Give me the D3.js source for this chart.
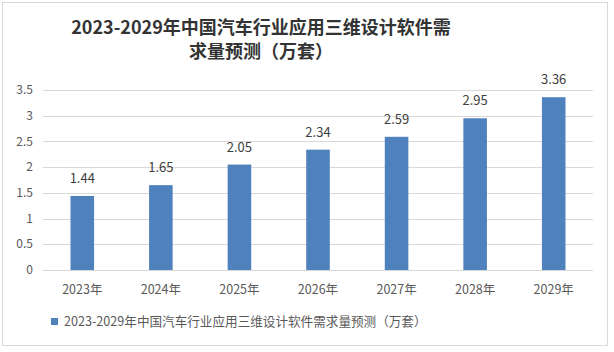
<!DOCTYPE html>
<html>
<head>
<meta charset="utf-8">
<script src="https://cdn.jsdelivr.net/npm/d3@7"></script>
<style>
  body { margin: 0; background: #fff; }
  text { font-family: "Noto Sans CJK SC", "Microsoft YaHei", sans-serif; }
</style>
</head>
<body>
<div id="chart"></div>
<script>
const years = ["2023年", "2024年", "2025年", "2026年", "2027年", "2028年", "2029年"];
const demand = [1.44, 1.65, 2.05, 2.34, 2.59, 2.95, 3.36];
const yTicks = [0, 0.5, 1, 1.5, 2, 2.5, 3, 3.5];
const seriesName = "2023-2029年中国汽车行业应用三维设计软件需求量预测（万套）";
const titleLines = ["2023-2029年中国汽车行业应用三维设计软件需", "求量预测（万套）"];

const width = 614, height = 352;
const margin = { top: 90, right: 21, bottom: 82, left: 43 };

const svg = d3.select("#chart")
  .append("svg")
  .attr("width", width)
  .attr("height", height);

// outer frame
svg.append("rect")
  .attr("x", 2.5).attr("y", 2.5)
  .attr("width", 605).attr("height", 343)
  .attr("fill", "#fff")
  .attr("stroke", "#d9d9d9");

const x = d3.scaleBand()
  .domain(years)
  .range([margin.left, width - margin.right])
  .paddingInner(0.7)
  .paddingOuter(0.35);

const y = d3.scaleLinear()
  .domain([0, 3.5])
  .range([height - margin.bottom, margin.top]);

// gridlines
svg.append("g")
  .selectAll("line")
  .data(yTicks)
  .join("line")
  .attr("x1", margin.left)
  .attr("x2", width - margin.right)
  .attr("y1", d => Math.round(y(d)) + 0.5)
  .attr("y2", d => Math.round(y(d)) + 0.5)
  .attr("stroke", "#d9d9d9");

// y labels
svg.append("g")
  .selectAll("text")
  .data(yTicks)
  .join("text")
  .attr("x", 33)
  .attr("y", d => y(d))
  .attr("dy", "0.35em")
  .attr("text-anchor", "end")
  .attr("font-size", 12)
  .attr("fill", "#595959")
  .text(d => d);

// bars
svg.append("g")
  .selectAll("rect")
  .data(demand)
  .join("rect")
  .attr("x", (d, i) => x(years[i]))
  .attr("y", d => y(d))
  .attr("width", x.bandwidth())
  .attr("height", d => y(0) - y(d))
  .attr("fill", "#4f81bd");

// value labels
svg.append("g")
  .selectAll("text")
  .data(demand)
  .join("text")
  .attr("x", (d, i) => x(years[i]) + x.bandwidth() / 2)
  .attr("y", d => y(d) - 13)
  .attr("text-anchor", "middle")
  .attr("font-size", 13)
  .attr("fill", "#404040")
  .text(d => d.toFixed(2));

// x labels
svg.append("g")
  .selectAll("text")
  .data(years)
  .join("text")
  .attr("x", d => x(d) + x.bandwidth() / 2)
  .attr("y", 294)
  .attr("text-anchor", "middle")
  .attr("font-size", 12.5)
  .attr("fill", "#595959")
  .text(d => d);

// title
svg.append("g")
  .selectAll("text")
  .data(titleLines)
  .join("text")
  .attr("x", 261)
  .attr("y", (d, i) => 34 + i * 24)
  .attr("text-anchor", "middle")
  .attr("font-size", 18)
  .attr("font-weight", "bold")
  .attr("fill", "#333")
  .text(d => d);

// legend
svg.append("rect")
  .attr("x", 51).attr("y", 318)
  .attr("width", 7).attr("height", 7)
  .attr("fill", "#4f81bd");
svg.append("text")
  .attr("x", 64)
  .attr("y", 326)
  .attr("font-size", 12.6)
  .attr("fill", "#595959")
  .text(seriesName);
</script>
</body>
</html>
